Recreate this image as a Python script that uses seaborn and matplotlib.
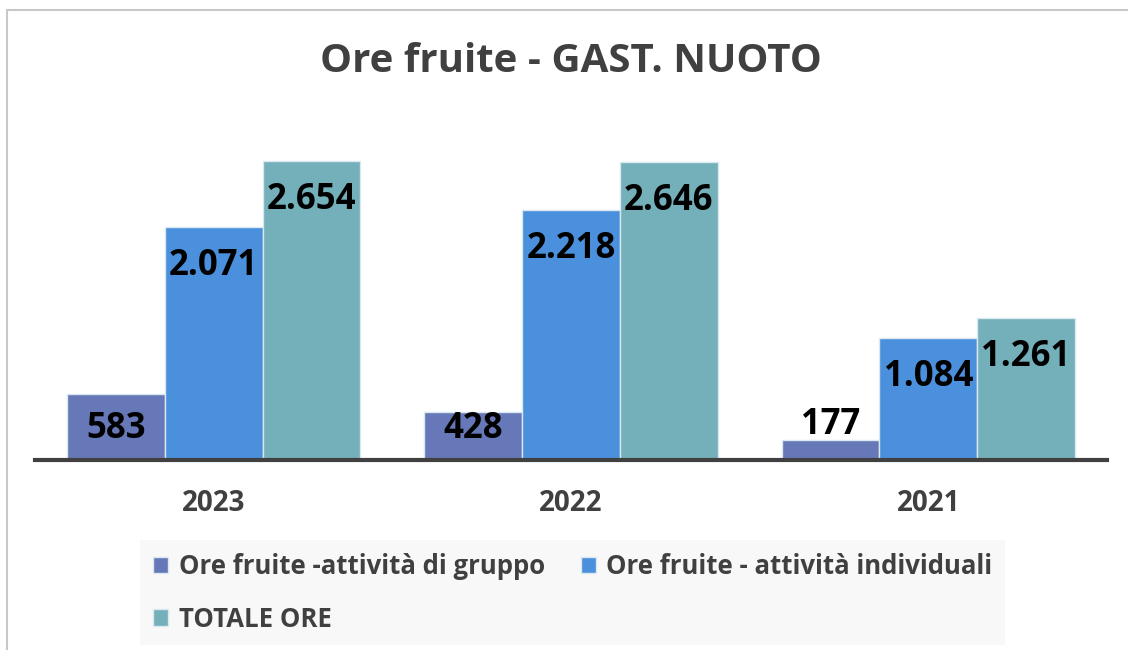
import pandas as pd
import matplotlib.pyplot as plt
import seaborn as sns
from matplotlib.lines import Line2D
from matplotlib.patches import Patch

# Data
anni = ['2023', '2022', '2021']
serie = ['Ore fruite -attività di gruppo', 'Ore fruite - attività individuali', 'TOTALE ORE']
gruppo = [583, 428, 177]
individuali = [2071, 2218, 1084]
totale = [2654, 2646, 1261]
colori = ['#6678B8', '#4A90DC', '#74B0BA']

df = pd.DataFrame({
    'anno': anni * 3,
    'serie': [serie[0]] * 3 + [serie[1]] * 3 + [serie[2]] * 3,
    'ore': gruppo + individuali + totale,
})

sns.set_style('white')
plt.rcParams['font.family'] = ['Open Sans', 'DejaVu Sans']

fig = plt.figure(figsize=(11.28, 6.5), dpi=100)
ax = fig.add_axes([35 / 1128, 190 / 650, 1072 / 1128, 338 / 650])

sns.barplot(data=df, x='anno', y='ore', hue='serie', order=anni, hue_order=serie,
            palette=colori, width=0.82, edgecolor='#dbe8f0', linewidth=1,
            saturation=1, ax=ax)

ax.set_xlim(-0.5, 2.5)
ax.set_ylim(0, 3000)
ax.set_xlabel('')
ax.set_ylabel('')
ax.set_yticks([])
for s in ['top', 'left', 'right']:
    ax.spines[s].set_visible(False)
ax.spines['bottom'].set_color('#404040')
ax.spines['bottom'].set_linewidth(3)
ax.tick_params(axis='x', length=0, pad=21, labelsize=20, labelcolor='#404040')
for t in ax.get_xticklabels():
    t.set_fontweight('bold')

# data labels, Excel style (inside end; short bars: centred low or above)
px_per_unit = 338 / 3000
for cont in ax.containers:
    for bar in cont:
        h = bar.get_height()
        testo = f'{int(h):,}'.replace(',', '.')
        cx = bar.get_x() + bar.get_width() / 2
        hpx = h * px_per_unit
        if hpx >= 66:
            y, off = h, -28
        elif hpx >= 35:
            y, off = 0, 22
        else:
            y, off = h, 11
        ax.annotate(testo, (cx, y), xytext=(0, off), textcoords='offset points',
                    ha='center', va='center', fontsize=25, fontweight='bold',
                    color='black')

ax.get_legend().remove()
handles = [Patch(facecolor=c, edgecolor='#dbe8f0') for c in colori]
order = [0, 2, 1]
leg = fig.legend([handles[i] for i in order], [serie[i] for i in order],
                 ncol=2, loc='upper left',
                 bbox_to_anchor=(140 / 1128, 1 - 540 / 650),
                 frameon=True, fancybox=False,
                 prop={'size': 18.5, 'weight': 'bold'},
                 handlelength=0.6, handleheight=0.6, handletextpad=0.4,
                 columnspacing=1.4, labelspacing=1.0, borderaxespad=0,
                 borderpad=0.5)
for t in leg.get_texts():
    t.set_color('#404040')
leg.get_frame().set_facecolor('#f7f7f7')
leg.get_frame().set_edgecolor('none')

fig.text(571 / 1128, 1 - 62 / 650, 'Ore fruite - GAST. NUOTO', ha='center', va='center',
         fontsize=29, fontweight='bold', color='#404040')

# chart area border (cropped on right and bottom)
fig.add_artist(Line2D([7 / 1128, 1], [1 - 10 / 650, 1 - 10 / 650], color='#c8c8c8', lw=1.5))
fig.add_artist(Line2D([7 / 1128, 7 / 1128], [0, 1 - 10 / 650], color='#c8c8c8', lw=1.5))

fig.savefig('out.png', dpi=100, facecolor='white')
